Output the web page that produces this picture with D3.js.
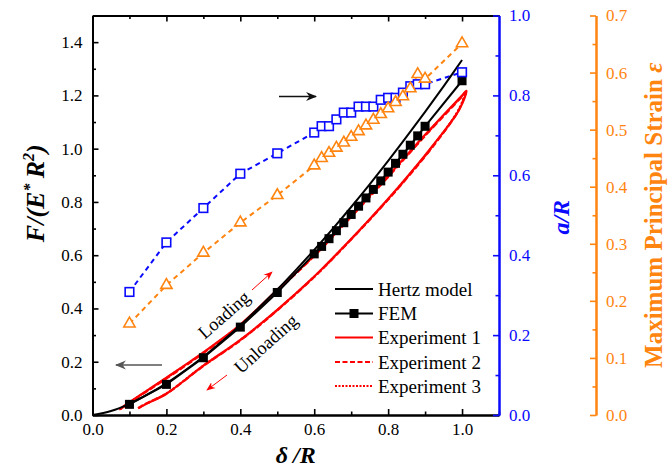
<!DOCTYPE html>
<html><head><meta charset="utf-8">
<script src="https://cdn.jsdelivr.net/npm/d3@7"></script>
<style>
body{margin:0;background:#fff;}
svg{display:block;font-family:"Liberation Serif","Times New Roman",serif;}
</style></head>
<body>
<svg id="c" width="669" height="469"></svg>
<script>
// ---------- data ----------
const hertzDelta = [0,0.05,0.1,0.15,0.2,0.25,0.3,0.35,0.4,0.45,0.5,0.55,0.6,0.65,0.7,0.75,0.8,0.85,0.9,0.95,1.0];
const hertzF     = [0,0.015,0.042,0.078,0.119,0.167,0.219,0.276,0.337,0.403,0.471,0.544,0.620,0.699,0.781,0.866,0.954,1.045,1.138,1.234,1.333];

const femDelta = [0.1,0.2,0.3,0.4,0.5,0.6,0.62,0.64,0.66,0.68,0.7,0.72,0.74,0.76,0.78,0.8,0.82,0.84,0.86,0.88,0.9,1.0];
const femF     = [0.04,0.115,0.215,0.33,0.46,0.605,0.633,0.662,0.692,0.722,0.753,0.784,0.815,0.847,0.879,0.912,0.945,0.979,1.013,1.048,1.084,1.255];

const contactDelta = [0.1,0.2,0.3,0.4,0.5,0.6,0.62,0.64,0.66,0.68,0.7,0.72,0.74,0.76,0.78,0.8,0.82,0.84,0.86,0.88,0.9,1.0];
const contactA     = [0.308,0.432,0.518,0.604,0.655,0.707,0.723,0.723,0.74,0.757,0.757,0.772,0.772,0.772,0.789,0.794,0.794,0.807,0.823,0.828,0.828,0.858];

const strainDelta = [0.1,0.2,0.3,0.4,0.5,0.6,0.62,0.64,0.66,0.68,0.7,0.72,0.74,0.76,0.78,0.8,0.82,0.84,0.86,0.88,0.9,1.0];
const strainE     = [0.16,0.2275,0.284,0.337,0.385,0.437,0.45,0.459,0.468,0.477,0.487,0.497,0.507,0.517,0.527,0.537,0.548,0.558,0.572,0.597,0.589,0.651];

// experiments: loading then unloading path
const exp1Delta = [0.072,0.1,0.2,0.3,0.4,0.5,0.6,0.7,0.8,0.9,1.0,1.012,0.993,0.92,0.83,0.74,0.64,0.6,0.5,0.4,0.3,0.2,0.15,0.13,0.123];
const exp1F     = [0.02,0.048,0.14,0.235,0.339,0.47,0.60,0.748,0.898,1.052,1.200,1.217,1.148,1.01,0.859,0.72,0.575,0.52,0.395,0.282,0.185,0.08,0.045,0.03,0.025];
const exp2Delta = [0.074,0.1,0.2,0.3,0.4,0.5,0.6,0.7,0.8,0.9,1.0,1.01,0.99,0.92,0.83,0.74,0.64,0.6,0.5,0.4,0.3,0.2,0.15,0.13,0.125];
const exp2F     = [0.021,0.046,0.137,0.232,0.336,0.466,0.597,0.744,0.894,1.048,1.196,1.212,1.142,1.006,0.856,0.718,0.573,0.518,0.393,0.28,0.184,0.08,0.046,0.031,0.026];
const exp3Delta = [0.075,0.1,0.2,0.3,0.4,0.5,0.6,0.7,0.8,0.9,1.0,1.008,0.99,0.92,0.83,0.74,0.64,0.6,0.5,0.4,0.3,0.2,0.15,0.13,0.126];
const exp3F     = [0.022,0.047,0.139,0.234,0.338,0.468,0.599,0.746,0.896,1.05,1.198,1.21,1.145,1.008,0.858,0.719,0.574,0.519,0.394,0.281,0.185,0.081,0.046,0.031,0.026];

const xTicks = [0,0.2,0.4,0.6,0.8,1.0];
const yTicks = [0,0.2,0.4,0.6,0.8,1.0,1.2,1.4];
const aTicks = [0,0.2,0.4,0.6,0.8,1.0];
const eTicks = [0,0.1,0.2,0.3,0.4,0.5,0.6,0.7];

const legendLabels = ["Hertz model","FEM","Experiment 1","Experiment 2","Experiment 3"];

// ---------- layout ----------
const L = 92.5, R = 499, T = 15.5, B = 415, OX = 596;
const BLUE = "#0a0aff", ORANGE = "#ff8410", RED = "#ff0000";

const svg = d3.select("#c");
const x = d3.scaleLinear().domain([0,1.1]).range([L,R]);
const y = d3.scaleLinear().domain([0,1.5]).range([B,T]);
const ya = d3.scaleLinear().domain([0,1]).range([B,T]);
const ye = d3.scaleLinear().domain([0,0.7]).range([B,T]);

const fmt1 = d3.format(".1f");
const tickFont = 17;

function styleAxis(g, color){
  g.selectAll("path.domain").attr("stroke", color).attr("stroke-width", 2);
  g.selectAll(".tick line").attr("stroke", color).attr("stroke-width", 1.6);
  g.selectAll("text").attr("fill", color).attr("font-size", tickFont)
    .attr("font-family", '"Liberation Serif","Times New Roman",serif');
}
function minorVals(domain, step){
  const out=[]; for(let v=domain[0]+step; v<domain[1]-1e-9; v+=2*step) out.push(+v.toFixed(4)); return out;
}

// bottom
let g = svg.append("g").attr("transform",`translate(0,${B})`)
  .call(d3.axisBottom(x).tickValues(xTicks).tickFormat(fmt1).tickSizeInner(-6).tickSizeOuter(0).tickPadding(8));
styleAxis(g,"#000");
g = svg.append("g").attr("transform",`translate(0,${B})`)
  .call(d3.axisBottom(x).tickValues([0.1,0.3,0.5,0.7,0.9,1.1]).tickFormat("").tickSizeInner(-3.5).tickSizeOuter(0));
styleAxis(g,"#000");
// top
g = svg.append("g").attr("transform",`translate(0,${T})`)
  .call(d3.axisTop(x).tickValues(xTicks).tickFormat("").tickSizeInner(-6).tickSizeOuter(0));
styleAxis(g,"#000");
g = svg.append("g").attr("transform",`translate(0,${T})`)
  .call(d3.axisTop(x).tickValues([0.1,0.3,0.5,0.7,0.9]).tickFormat("").tickSizeInner(-3.5).tickSizeOuter(0));
styleAxis(g,"#000");
// left
g = svg.append("g").attr("transform",`translate(${L},0)`)
  .call(d3.axisLeft(y).tickValues(yTicks).tickFormat(fmt1).tickSizeInner(-6).tickSizeOuter(0).tickPadding(10));
styleAxis(g,"#000");
g = svg.append("g").attr("transform",`translate(${L},0)`)
  .call(d3.axisLeft(y).tickValues(minorVals([0,1.5],0.1)).tickFormat("").tickSizeInner(-3.5).tickSizeOuter(0));
styleAxis(g,"#000");
// blue right
g = svg.append("g").attr("transform",`translate(${R},0)`)
  .call(d3.axisRight(ya).tickValues(aTicks).tickFormat(fmt1).tickSizeInner(-6).tickSizeOuter(0).tickPadding(10));
styleAxis(g,BLUE);
g = svg.append("g").attr("transform",`translate(${R},0)`)
  .call(d3.axisRight(ya).tickValues([0.1,0.3,0.5,0.7,0.9]).tickFormat("").tickSizeInner(-3.5).tickSizeOuter(0));
styleAxis(g,BLUE);
// orange right
g = svg.append("g").attr("transform",`translate(${OX},0)`)
  .call(d3.axisRight(ye).tickValues(eTicks).tickFormat(fmt1).tickSizeInner(-6).tickSizeOuter(0).tickPadding(10));
styleAxis(g,ORANGE);
g = svg.append("g").attr("transform",`translate(${OX},0)`)
  .call(d3.axisRight(ye).tickValues([0.05,0.15,0.25,0.35,0.45,0.55,0.65]).tickFormat("").tickSizeInner(-3.5).tickSizeOuter(0));
styleAxis(g,ORANGE);

// ---------- series ----------
const zip = (a,b)=>a.map((v,i)=>[v,b[i]]);
const line = (sx,sy)=>d3.line().x(d=>sx(d[0])).y(d=>sy(d[1]));
const lineC = (sx,sy)=>d3.line().curve(d3.curveCatmullRom.alpha(0.5)).x(d=>sx(d[0])).y(d=>sy(d[1]));

const plot = svg.append("g");

// blue a/R
plot.append("path").datum(zip(contactDelta,contactA)).attr("d",line(x,ya))
  .attr("fill","none").attr("stroke",BLUE).attr("stroke-width",2).attr("stroke-dasharray","5,4");
// orange strain
plot.append("path").datum(zip(strainDelta,strainE)).attr("d",line(x,ye))
  .attr("fill","none").attr("stroke",ORANGE).attr("stroke-width",2).attr("stroke-dasharray","5,4");

// experiments
const exps = [[exp1Delta,exp1F,null],[exp2Delta,exp2F,"6,3"],[exp3Delta,exp3F,"2,2"]];
exps.forEach(([dx,fy,dash])=>{
  plot.append("path").datum(zip(dx,fy)).attr("d",lineC(x,y))
    .attr("fill","none").attr("stroke",RED).attr("stroke-width",2.2)
    .attr("stroke-dasharray",dash).attr("stroke-linejoin","round");
});

// Hertz
plot.append("path").datum(zip(hertzDelta,hertzF)).attr("d",lineC(x,y))
  .attr("fill","none").attr("stroke","#000").attr("stroke-width",2);
// FEM
plot.append("path").datum(zip(femDelta,femF)).attr("d",line(x,y))
  .attr("fill","none").attr("stroke","#000").attr("stroke-width",2);
plot.selectAll("rect.fem").data(zip(femDelta,femF)).join("rect").attr("class","fem")
  .attr("x",d=>x(d[0])-4.5).attr("y",d=>y(d[1])-4.5).attr("width",9).attr("height",9).attr("fill","#000");

// blue squares
plot.selectAll("rect.a").data(zip(contactDelta,contactA)).join("rect").attr("class","a")
  .attr("x",d=>x(d[0])-4.3).attr("y",d=>ya(d[1])-4.3).attr("width",8.6).attr("height",8.6)
  .attr("fill","#fff").attr("stroke",BLUE).attr("stroke-width",1.6);
// orange triangles
const tri = d3.symbol().type(d3.symbolTriangle).size(55);
plot.selectAll("path.e").data(zip(strainDelta,strainE)).join("path").attr("class","e")
  .attr("d",tri).attr("transform",d=>`translate(${x(d[0])},${ye(d[1])})`)
  .attr("fill","#fff").attr("stroke",ORANGE).attr("stroke-width",1.6);

// ---------- arrows & annotations ----------
const defs = svg.append("defs");
function marker(id,color,w){
  defs.append("marker").attr("id",id).attr("viewBox","0 0 10 10").attr("refX",9).attr("refY",5)
    .attr("markerWidth",w).attr("markerHeight",w).attr("orient","auto").attr("markerUnits","userSpaceOnUse")
    .append("path").attr("d","M0,1 L10,5 L0,9 L3,5 Z").attr("fill",color);
}
marker("ak","#111",11); marker("ag","#555",11); marker("ar",RED,9);
svg.append("line").attr("x1",279).attr("y1",96.5).attr("x2",316).attr("y2",96.5)
  .attr("stroke","#111").attr("stroke-width",1.3).attr("marker-end","url(#ak)");
svg.append("line").attr("x1",162).attr("y1",365).attr("x2",116).attr("y2",365)
  .attr("stroke","#555").attr("stroke-width",1.3).attr("marker-end","url(#ag)");
svg.append("line").attr("x1",252).attr("y1",290).attr("x2",272).attr("y2",272)
  .attr("stroke",RED).attr("stroke-width",1).attr("marker-end","url(#ar)");
svg.append("line").attr("x1",227).attr("y1",375).attr("x2",207).attr("y2",390)
  .attr("stroke",RED).attr("stroke-width",1).attr("marker-end","url(#ar)");

svg.append("text").attr("transform","translate(224,315) rotate(-41)").attr("text-anchor","middle")
  .attr("font-size",18.5).attr("dominant-baseline","central").text("Loading");
svg.append("text").attr("transform","translate(266,344) rotate(-42)").attr("text-anchor","middle")
  .attr("font-size",18.5).attr("dominant-baseline","central").text("Unloading");

// ---------- legend ----------
const lg = svg.append("g");
const rowsY = [289,313.5,337.5,362,386];
const lstyles = [["#000",null,false],["#000",null,true],[RED,null,false],[RED,"5,2.5",false],[RED,"2,1.5",false]];
legendLabels.forEach((lab,i)=>{
  const [c,dash,sq] = lstyles[i];
  lg.append("line").attr("x1",335).attr("x2",373).attr("y1",rowsY[i]).attr("y2",rowsY[i])
    .attr("stroke",c).attr("stroke-width",2.2).attr("stroke-dasharray",dash);
  if(sq) lg.append("rect").attr("x",349.5).attr("y",rowsY[i]-4.5).attr("width",9).attr("height",9).attr("fill","#000");
  lg.append("text").attr("x",378).attr("y",rowsY[i]).attr("dominant-baseline","central")
    .attr("font-size",19).text(lab);
});

// ---------- axis titles ----------
const lt = svg.append("text").attr("transform",`translate(44,${(T+B)/2 - 22}) rotate(-90)`)
  .attr("text-anchor","middle").attr("font-size",26).attr("font-weight","bold").attr("font-style","italic");
lt.append("tspan").text("F/(E");
lt.append("tspan").attr("dy",-9).attr("font-size",16).text("*");
lt.append("tspan").attr("dy",9).text("\u2009R");
lt.append("tspan").attr("dy",-10).attr("font-size",16).text("2");
lt.append("tspan").attr("dy",10).text(")");

svg.append("text").attr("x",(L+R)/2).attr("y",463).attr("text-anchor","middle")
  .attr("font-size",24).attr("font-weight","bold").attr("font-style","italic").text("\u03B4\u2009/R");

svg.append("text").attr("transform",`translate(569,${(T+B)/2 + 2}) rotate(-90)`).attr("text-anchor","middle")
  .attr("font-size",24).attr("font-weight","bold").attr("font-style","italic").attr("fill",BLUE).text("a/R");

const ot = svg.append("text").attr("transform",`translate(662,${(T+B)/2}) rotate(-90)`).attr("text-anchor","middle")
  .attr("font-size",25).attr("font-weight","bold").attr("fill",ORANGE);
ot.append("tspan").text("Maximum Principal Strain ");
ot.append("tspan").attr("font-style","italic").text("\u03B5");
</script>
</body></html>
